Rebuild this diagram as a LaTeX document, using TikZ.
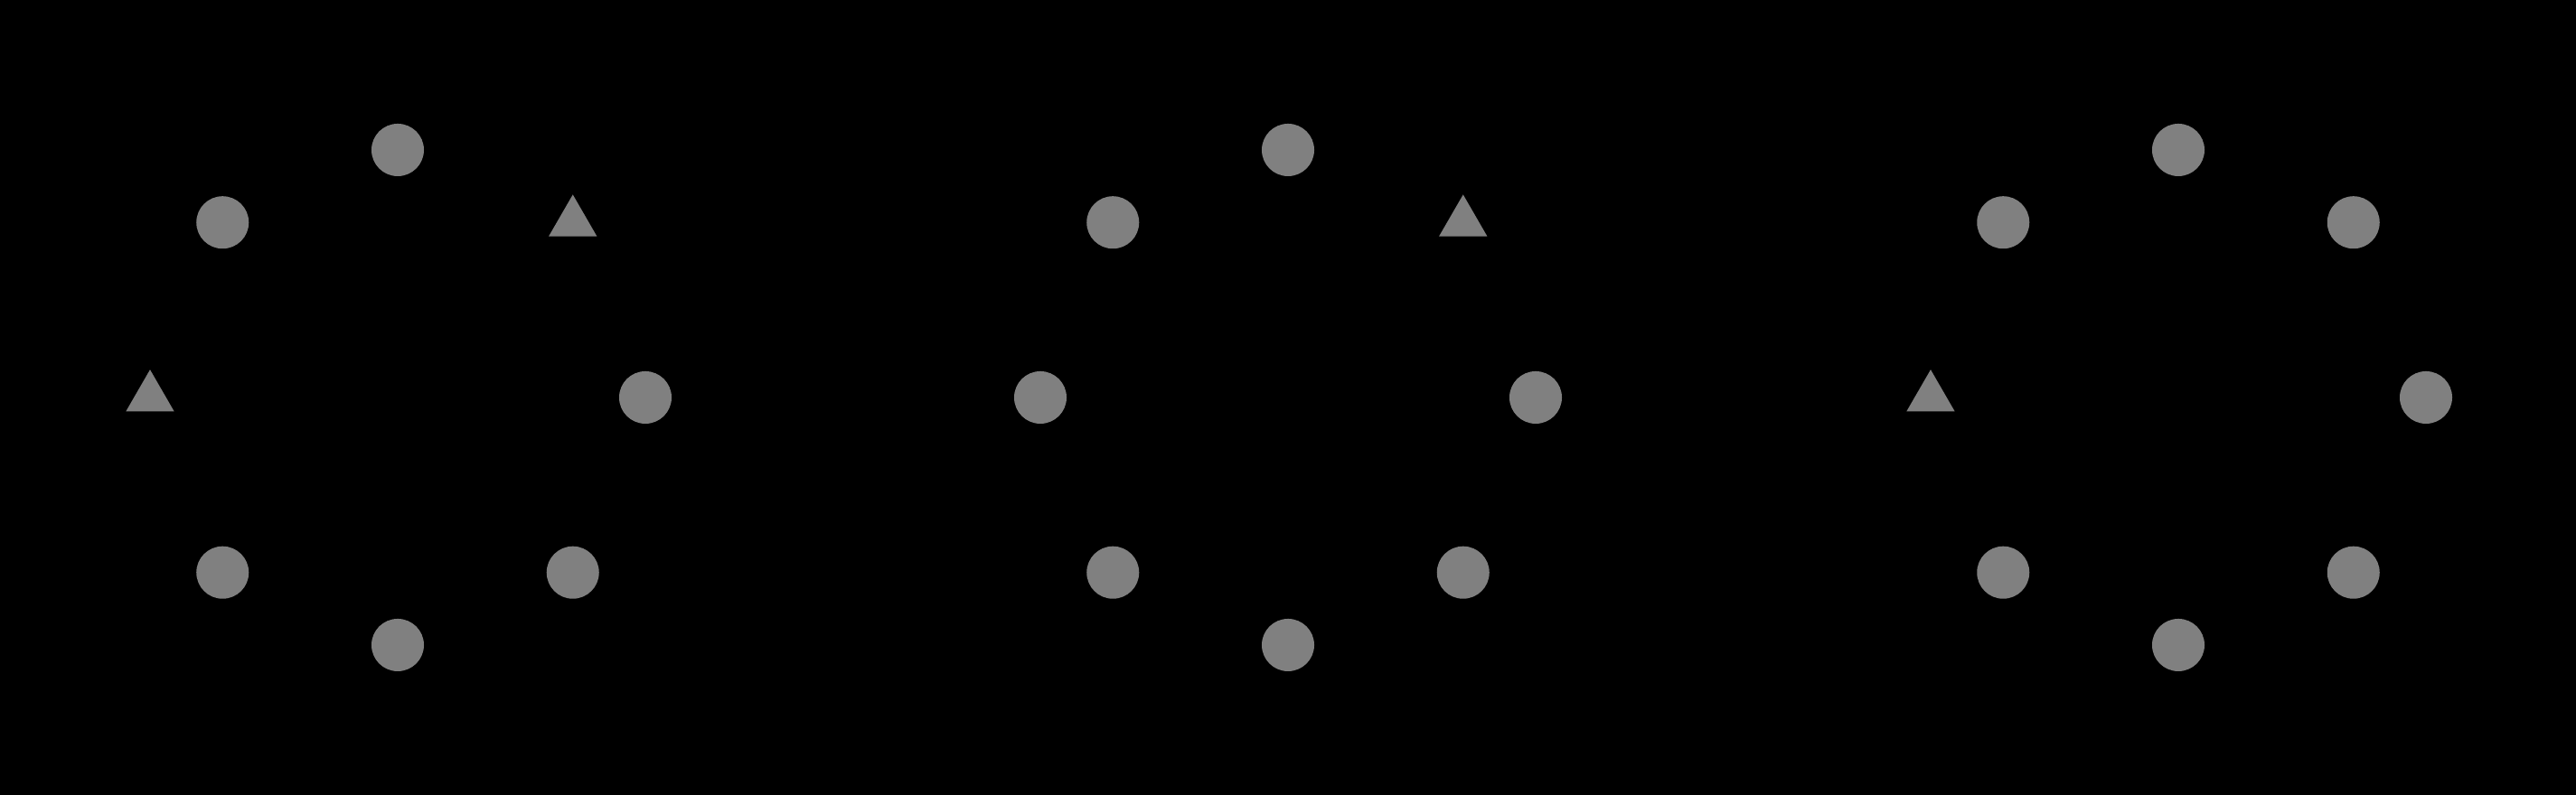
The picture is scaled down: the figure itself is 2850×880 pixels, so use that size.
\documentclass[tikz,border=0pt]{standalone}
\usetikzlibrary{shapes.geometric,calc}
\definecolor{shapegray}{RGB}{128,128,128}
\begin{document}
\begin{tikzpicture}[x=0.01cm,y=0.01cm,
  dot/.style={circle,fill=shapegray,draw=none,inner sep=0pt,outer sep=0pt,minimum size=0.58cm},
  tri/.style={regular polygon,regular polygon sides=3,fill=shapegray,draw=none,inner sep=0pt,outer sep=0pt,minimum size=0.616cm}]
\fill[black] (0,0) rectangle (2850,880);
\useasboundingbox (0,0) rectangle (2850,880);
% group A: triangles at 45 and 180
\foreach \a/\s in {0/dot,45/tri,90/dot,135/dot,180/tri,225/dot,270/dot,315/dot}
  \node[\s] (A\a) at ($(440,440)+(\a:274)$) {};
% group B: triangle at 45
\foreach \a/\s in {0/dot,45/tri,90/dot,135/dot,180/dot,225/dot,270/dot,315/dot}
  \node[\s] (B\a) at ($(1425,440)+(\a:274)$) {};
% group C: triangle at 180
\foreach \a/\s in {0/dot,45/dot,90/dot,135/dot,180/tri,225/dot,270/dot,315/dot}
  \node[\s] (C\a) at ($(2410,440)+(\a:274)$) {};
\end{tikzpicture}
\end{document}
